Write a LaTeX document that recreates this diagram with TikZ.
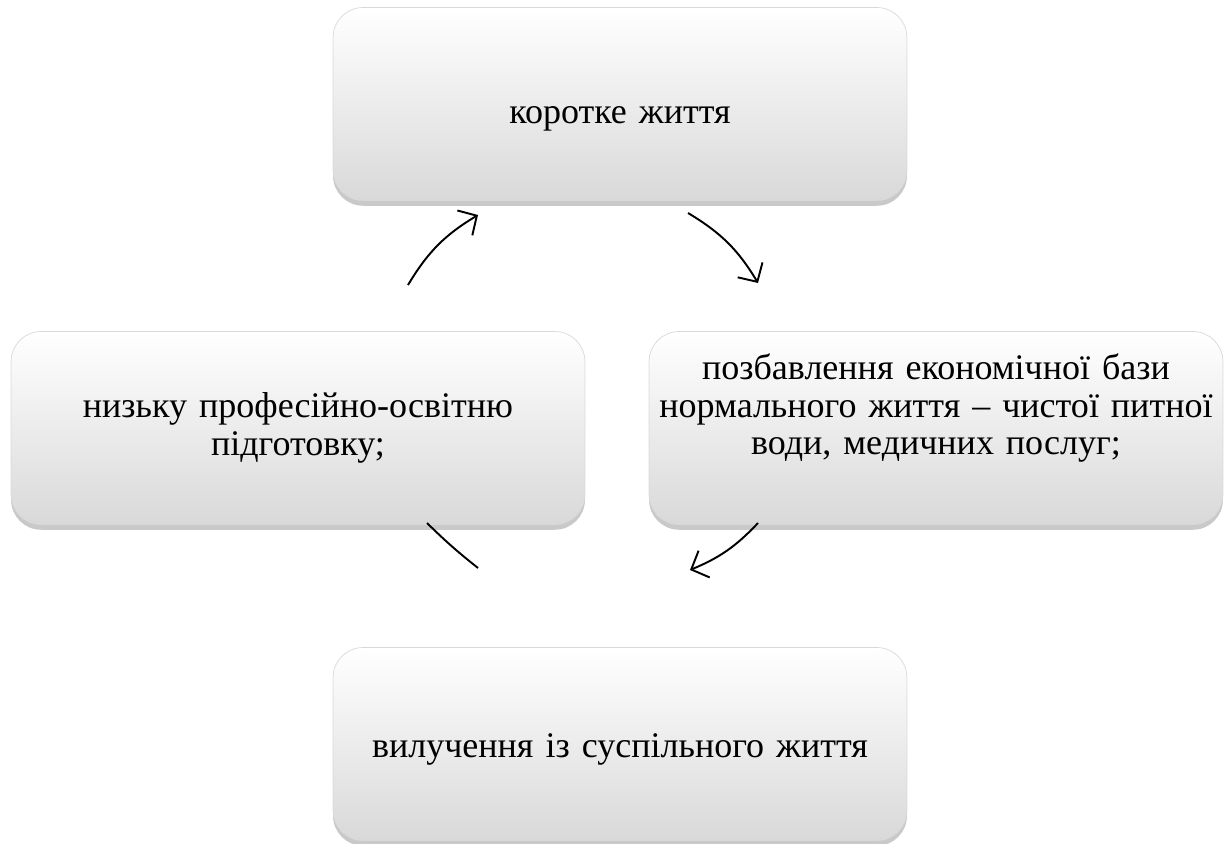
\documentclass[tikz,border=0pt]{standalone}
\usepackage{fontspec}
\setmainfont{Liberation Serif}
\usepackage{tikz}
\usetikzlibrary{arrows.meta, shadows}

\begin{document}
\begin{tikzpicture}[x=0.02cm, y=0.02cm,
    stage/.style={rounded corners=0.6cm, draw=gray!30, top color=white,
        bottom color=gray!30, minimum width=11.48cm, minimum height=3.86cm,
        text width=11.45cm, align=center, inner sep=0pt,
        font=\fontsize{20.5}{21.5}\selectfont,
        drop shadow={shadow xshift=0pt, shadow yshift=-3pt, opacity=0.5, fill=gray!85}},
    cyc/.style={line width=1.1pt, -{Straight Barb[length=2.8mm, width=5.8mm, line width=1.1pt]}}]
    \useasboundingbox (0,0) rectangle (1227,843);

    % Stages of the cycle
    \node[stage, text height=26pt] (short) at (620,739) {коротке життя};
    \node[stage, text depth=70pt] (econ) at (936,415) {позбавлення економічної бази\\нормального життя -- чистої питної\\води, медичних послуг;};
    \node[stage, text height=20pt] (exclude) at (620,99) {вилучення із суспільного життя};
    \node[stage] (training) at (298,415) {низьку професійно-освітню\\підготовку;};

    % Arrows between the stages
    \coordinate (a1s) at (408,558);
    \coordinate (a1e) at (478,628);
    \coordinate (a2s) at (688,630);
    \coordinate (a2e) at (758,560);
    \coordinate (a3s) at (758,320);
    \coordinate (a3e) at (690,273);
    \coordinate (a4s) at (478,275);
    \coordinate (a4e) at (427,320);
    \draw[cyc] (a1s) to[bend left=14] (a1e);
    \draw[cyc] (a2s) to[bend left=14] (a2e);
    \draw[cyc] (a3s) to[bend left=12] (a3e);
    \draw[line width=1.1pt] (a4s) to[bend left=3] (a4e);
\end{tikzpicture}
\end{document}
